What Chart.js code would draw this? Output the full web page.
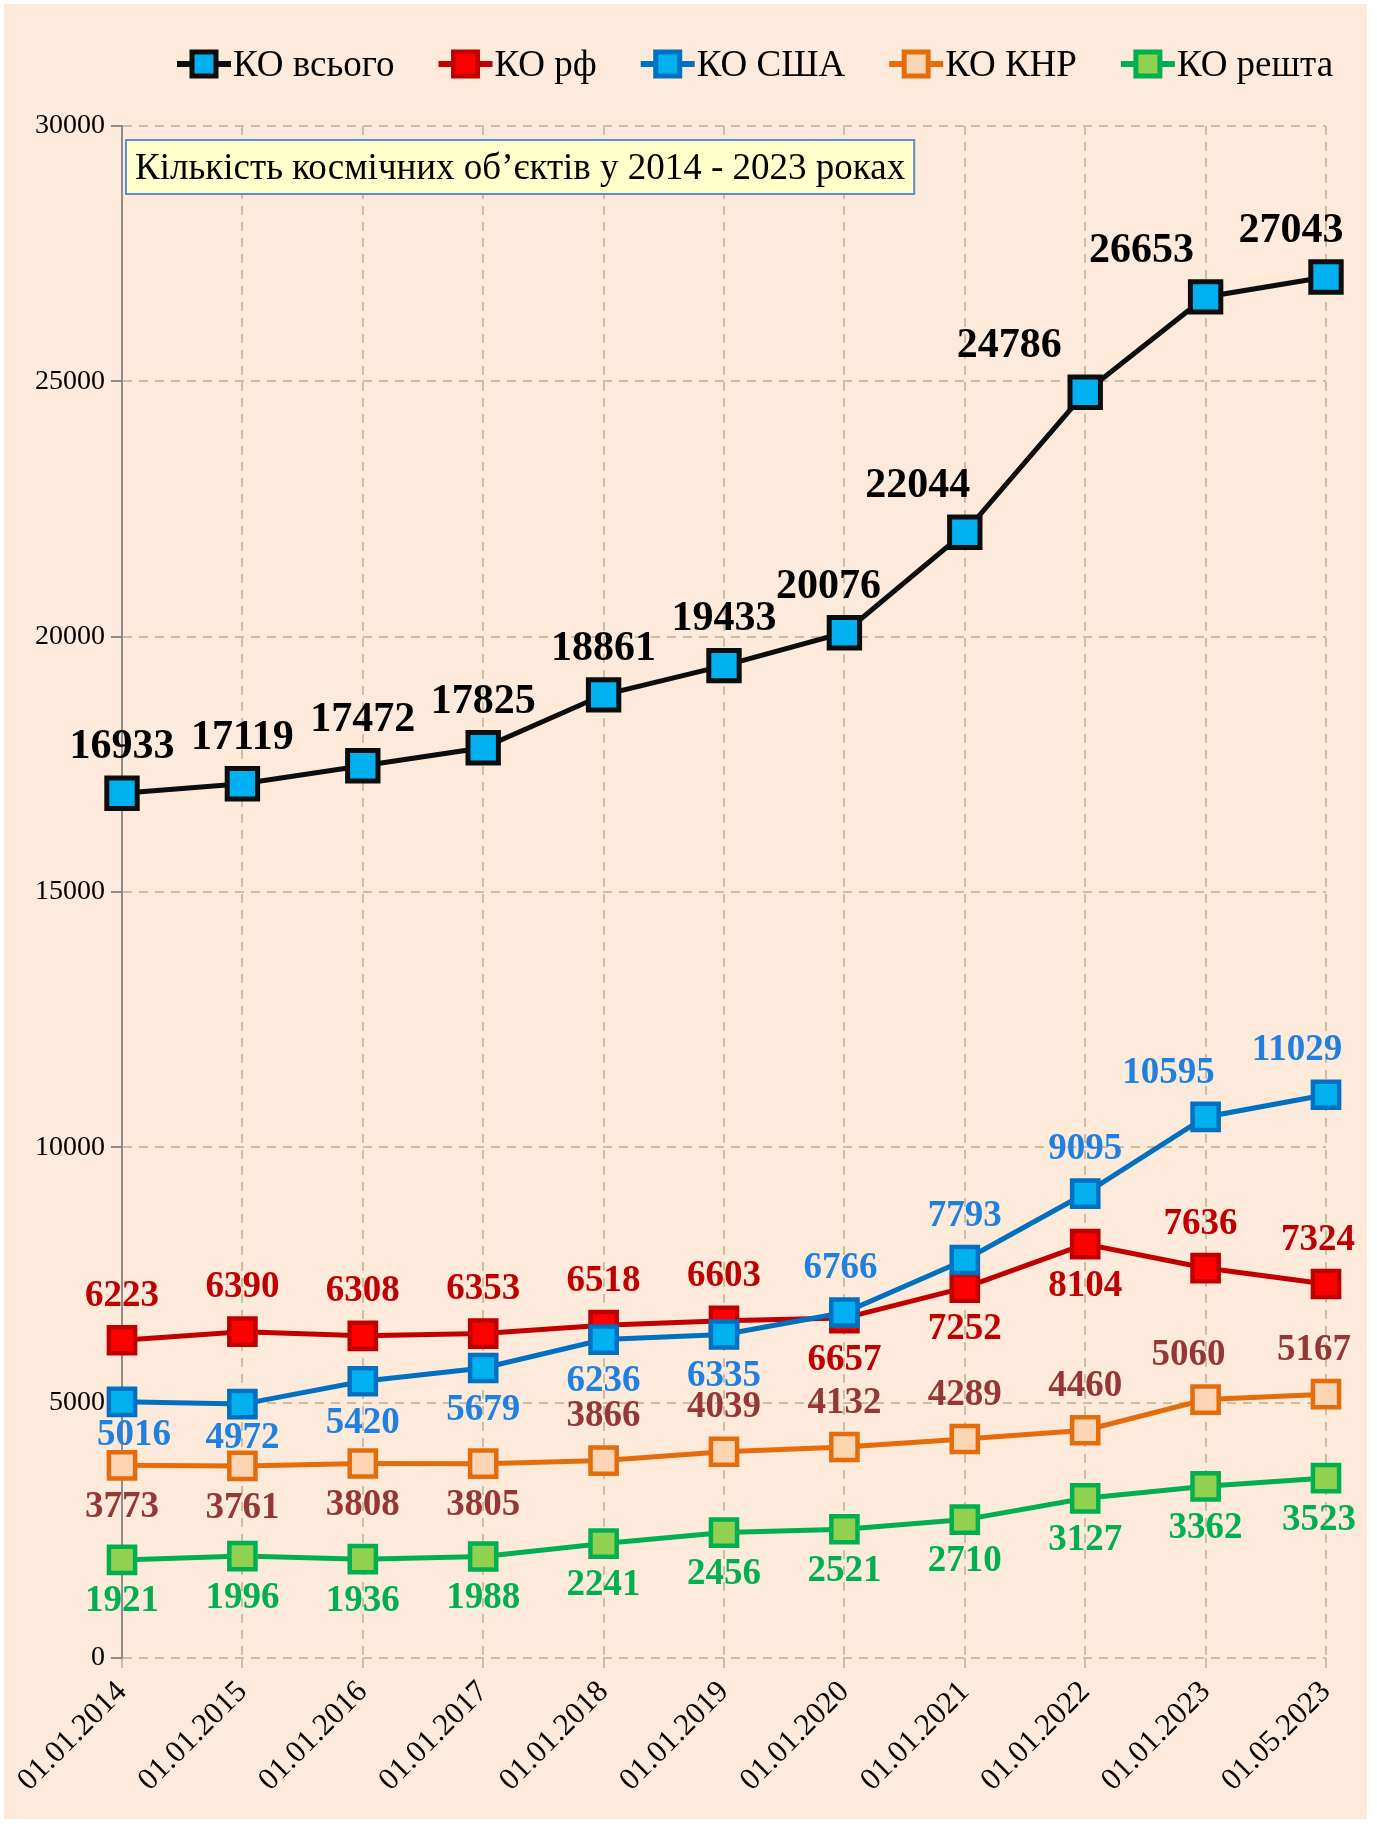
<!DOCTYPE html>
<html>
<head>
<meta charset="utf-8">
<title>Кількість космічних об’єктів</title>
<script src="https://cdn.jsdelivr.net/npm/chart.js@4.4.0/dist/chart.umd.min.js"></script>
<style>
  html, body { margin: 0; padding: 0; background: #fff; }
  #wrap { position: absolute; left: 4px; top: 4px; width: 1363px; height: 1815px; background: #FDEADA; }
</style>
</head>
<body>
<div id="wrap"><canvas id="chart"></canvas></div>
<script>
// data
const dates = ['01.01.2014', '01.01.2015', '01.01.2016', '01.01.2017', '01.01.2018', '01.01.2019',
               '01.01.2020', '01.01.2021', '01.01.2022', '01.01.2023', '01.05.2023'];
const koTotal = [16933, 17119, 17472, 17825, 18861, 19433, 20076, 22044, 24786, 26653, 27043];
const koRf    = [6223, 6390, 6308, 6353, 6518, 6603, 6657, 7252, 8104, 7636, 7324];
const koUsa   = [5016, 4972, 5420, 5679, 6236, 6335, 6766, 7793, 9095, 10595, 11029];
const koChina = [3773, 3761, 3808, 3805, 3866, 4039, 4132, 4289, 4460, 5060, 5167];
const koRest  = [1921, 1996, 1936, 1988, 2241, 2456, 2521, 2710, 3127, 3362, 3523];
const yTicks  = [0, 5000, 10000, 15000, 20000, 25000, 30000];

const title = 'Кількість космічних об’єктів у 2014 - 2023 роках';
const serif = '"Liberation Serif", "Times New Roman", serif';

// where each value label sits: a = above the point, b = below
const labelSide = {
  total: 'aaaaaaaaaaa',
  rf:    'aaaaaabbbaa',
  usa:   'bbbbbbaaaaa',
  china: 'bbbbaaaaaaa',
  rest:  'bbbbbbbbbbb'
};
const labelShift = {
  total: [0, 0, 0, 0, 0, 0, -16, -47, -76, -64, -35],
  usa:   [12, 0, 0, 0, 0, 0, -4, 0, 0, -37, -29],
  china: [0, 0, 0, 0, 0, 0, 0, 0, 0, -17, -12],
  rf:    [0, 0, 0, 0, 0, 0, 0, 0, 0, -5, -8],
  rest:  [0, 0, 0, 0, 0, 0, 0, 0, 0, 0, -7]
};

function series(key, label, data, line, fill, text, big, order) {
  return {
    key: key, label: label, data: data, order: order,
    borderColor: line, backgroundColor: fill,
    borderWidth: 5,
    pointStyle: 'rect',
    pointRadius: big ? 21.5 : 18.5,
    pointHoverRadius: big ? 21.5 : 18.5,
    pointBorderColor: line, pointBackgroundColor: fill,
    pointBorderWidth: big ? 5 : 4.5,
    textColor: text, textSize: big ? 42 : 37,
    tension: 0, fill: false
  };
}

const datasets = [
  series('total', 'КО всього', koTotal, '#0D0D0D', '#00B0F0', '#000000', true, 5),
  series('rf', 'КО рф', koRf, '#C00000', '#FF0000', '#C00000', false, 4),
  series('usa', 'КО США', koUsa, '#0070C0', '#00B0F0', '#1F80E0', false, 3),
  series('china', 'КО КНР', koChina, '#E46C0A', '#FCD5B5', '#953735', false, 2),
  series('rest', 'КО решта', koRest, '#00B050', '#92D050', '#00B050', false, 1)
];

const valueLabels = {
  id: 'valueLabels',
  afterDatasetsDraw(chart) {
    const ctx = chart.ctx;
    ctx.save();
    ctx.textAlign = 'center';
    ctx.textBaseline = 'middle';
    chart.data.datasets.forEach((ds, i) => {
      const meta = chart.getDatasetMeta(i);
      ctx.fillStyle = ds.textColor;
      ctx.font = 'bold ' + ds.textSize + 'px ' + serif;
      meta.data.forEach((pt, j) => {
        const above = labelSide[ds.key][j] === 'a';
        let dy = above ? (ds.key === 'total' ? -46 : -44) : 42;
        if (ds.key === 'usa' && j < 2) dy = 34;
        const dx = labelShift[ds.key][j];
        ctx.fillText(String(ds.data[j]), pt.x + dx, pt.y + dy);
      });
    });
    ctx.restore();
  }
};

const titleBox = {
  id: 'titleBox',
  afterDatasetsDraw(chart) {
    const ctx = chart.ctx, a = chart.chartArea;
    ctx.save();
    ctx.font = '37px ' + serif;
    const w = ctx.measureText(title).width + 18;
    const x = a.left + 4, y = a.top + 14, h = 54;
    ctx.fillStyle = '#FFFFCC';
    ctx.fillRect(x, y, w, h);
    ctx.strokeStyle = '#5B8FD0';
    ctx.lineWidth = 2;
    ctx.strokeRect(x, y, w, h);
    ctx.fillStyle = '#000';
    ctx.textBaseline = 'middle';
    ctx.fillText(title, x + 9, y + h / 2 + 2);
    ctx.restore();
  }
};

const lineLegend = {
  id: 'lineLegend',
  afterDraw(chart) {
    const ctx = chart.ctx;
    let x = 173;
    const cy = 60;
    ctx.save();
    ctx.font = '37px ' + serif;
    ctx.textBaseline = 'middle';
    chart.data.datasets.forEach(ds => {
      ctx.strokeStyle = ds.borderColor;
      ctx.lineWidth = 6;
      ctx.beginPath();
      ctx.moveTo(x, cy);
      ctx.lineTo(x + 54, cy);
      ctx.stroke();
      ctx.fillStyle = ds.backgroundColor;
      ctx.fillRect(x + 15, cy - 12, 24, 24);
      ctx.lineWidth = 5;
      ctx.strokeRect(x + 15, cy - 12, 24, 24);
      ctx.fillStyle = '#000';
      ctx.fillText(ds.label, x + 56, cy + 2);
      x += 56 + ctx.measureText(ds.label).width + 44;
    });
    ctx.restore();
  }
};

new Chart(document.getElementById('chart'), {
  type: 'line',
  data: { labels: dates, datasets: datasets },
  plugins: [valueLabels, titleBox, lineLegend],
  options: {
    responsive: true,
    maintainAspectRatio: false,
    animation: false,
    layout: { padding: { left: 0, right: 41, top: 122, bottom: 0 } },
    plugins: {
      legend: { display: false },
      tooltip: { enabled: false }
    },
    scales: {
      x: {
        offset: false,
        border: { display: false, dash: [9, 7] },
        grid: {
          color: '#C9C0A0', lineWidth: 2,
          tickLength: 10, tickColor: '#C9C0A0', tickWidth: 2
        },
        ticks: {
          autoSkip: false, minRotation: 45, maxRotation: 45,
          color: '#000', padding: 6,
          font: { family: serif, size: 31 }
        },
        afterFit(s) { s.height = 161; }
      },
      y: {
        min: 0, max: 30000,
        border: { display: true, color: '#8C8C8C', width: 2, dash: [9, 7] },
        grid: {
          color: '#C9C0A0', lineWidth: 2,
          tickLength: 11, tickColor: '#8C8C8C', tickWidth: 2
        },
        afterBuildTicks(s) { s.ticks = yTicks.map(v => ({ value: v })); },
        ticks: {
          color: '#000', padding: 6,
          font: { family: serif, size: 28 },
          callback: v => String(v)
        },
        afterFit(s) { s.width = 118; }
      }
    }
  }
});
</script>
</body>
</html>
